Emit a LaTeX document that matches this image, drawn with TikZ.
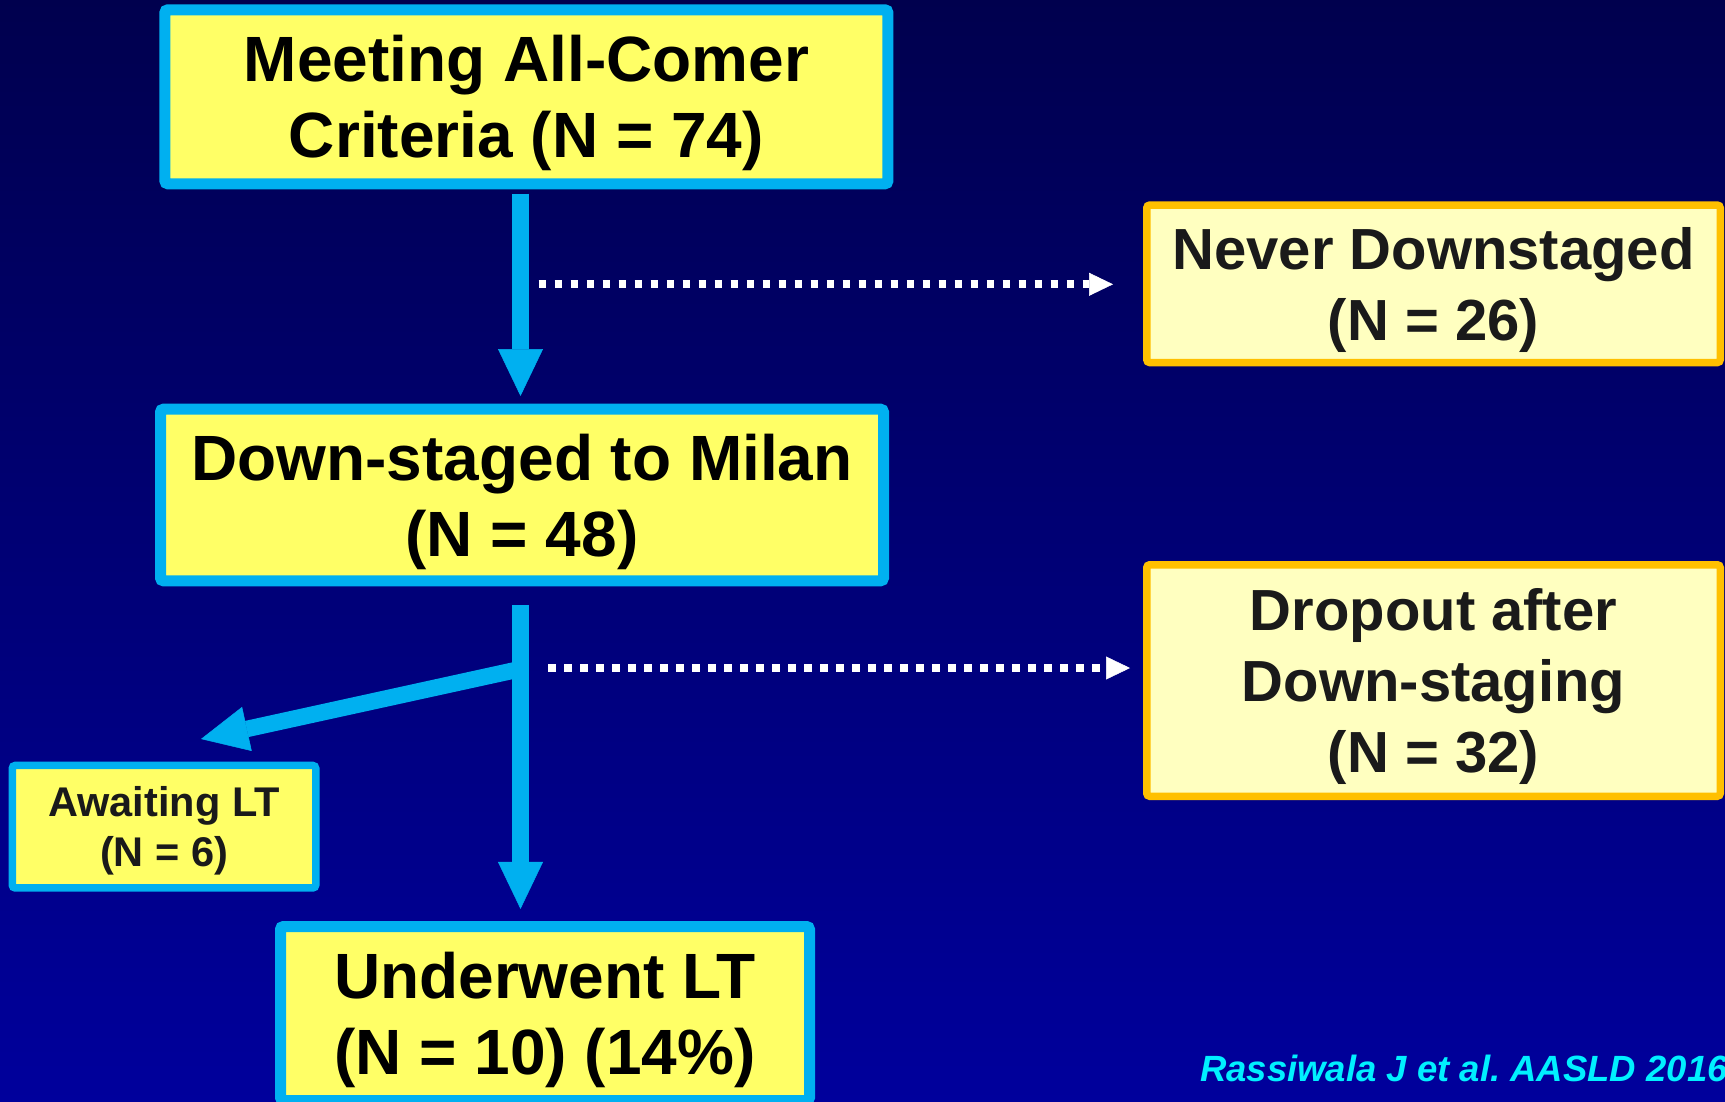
\documentclass[tikz,border=0pt]{standalone}
\usepackage{fontspec}
\setmainfont{Liberation Sans}
\usetikzlibrary{arrows.meta}
\frenchspacing

\definecolor{bgtop}{HTML}{00004E}
\definecolor{bgbot}{HTML}{00009C}
\definecolor{skyline}{HTML}{00B0F0}
\definecolor{boxyellow}{HTML}{FFFF66}
\definecolor{paleyellow}{HTML}{FFFFC0}
\definecolor{amber}{HTML}{FFC000}
\definecolor{citecyan}{HTML}{00F0FF}
\definecolor{ink}{HTML}{1A1A1A}

\tikzset{
  mainbox/.style={draw=skyline, fill=boxyellow, line width=11pt, rounded corners=3pt,
    inner sep=0pt, align=center, text depth=0pt, text=black,
    font=\bfseries\fontsize{64}{76}\selectfont},
  sidebox/.style={draw=amber, fill=paleyellow, line width=7.5pt, rounded corners=3pt,
    inner sep=0pt, align=center, text depth=0pt, text=ink,
    font=\bfseries\fontsize{58}{71}\selectfont},
  smallbox/.style={draw=skyline, fill=boxyellow, line width=7.5pt, rounded corners=3pt,
    inner sep=0pt, align=center, text depth=0pt, text=ink,
    font=\bfseries\fontsize{41.5}{50.5}\selectfont},
  flow/.style={draw=skyline, line width=16.5pt,
    -{Triangle[length=47pt,width=45pt,line width=0.5pt]}},
  leak/.style={draw=white, line width=8pt, dash pattern=on 7.5pt off 8.5pt,
    -{Triangle[length=24pt,width=23pt,line width=0.5pt]}},
}

\begin{document}
\begin{tikzpicture}[x=1pt,y=-1pt]
  \useasboundingbox (0,0) rectangle (1725,1101);
  \clip (0,0) rectangle (1725,1101);
  % background
  \shade[top color=bgtop, bottom color=bgbot] (0,0) rectangle (1725,1101);

  % boxes
  \node[mainbox, minimum width=723pt, minimum height=174pt] (top) at (526.4,96.8)
    {Meeting All-Comer\\Criteria (N = 74)};
  \node[sidebox, minimum width=573.5pt, minimum height=157.5pt] (never) at (1433.5,283.8)
    {Never Downstaged\\(N = 26)};
  \node[mainbox, minimum width=723pt, minimum height=171.6pt] (down) at (522,495)
    {Down-staged to Milan\\(N = 48)};
  \node[sidebox, minimum width=573.5pt, minimum height=231.5pt] (dropout) at (1433.5,680.5)
    {Dropout after\\Down-staging\\(N = 32)};
  \node[smallbox, minimum width=303.5pt, minimum height=122.5pt] (await) at (164,826.7)
    {Awaiting LT\\(N = 6)};
  \node[mainbox, minimum width=529pt, minimum height=174pt] (lt) at (545,1013.5)
    {Underwent LT\\(N = 10) (14\%)};

  % main flow
  \draw[flow] ([xshift=-5.9pt,yshift=-4.4pt]top.south) -- ([xshift=-1.5pt,yshift=7.7pt]down.north);
  \draw[flow] ([xshift=-1.5pt,yshift=-18.7pt]down.south) -- ([xshift=-24.5pt,yshift=12.1pt]lt.north);
  \coordinate (fork) at (520.5,669);
  \draw[flow] (fork) -- ([xshift=37pt,yshift=22.7pt]await.north);

  % losses
  \coordinate (leakA) at (538.6,284.3);
  \coordinate (leakB) at (548,668);
  \draw[leak, shorten >=30pt] (leakA) -- (leakA -| never.west);
  \draw[leak, shorten >=13pt] (leakB) -- (leakB -| dropout.west);

  % reference
  \node[anchor=base west, inner sep=0pt, text=citecyan,
    font=\bfseries\itshape\fontsize{36.5}{40}\selectfont] (cite) at (1200,1081.5)
    {Rassiwala J et al. AASLD 2016};
\end{tikzpicture}
\end{document}
